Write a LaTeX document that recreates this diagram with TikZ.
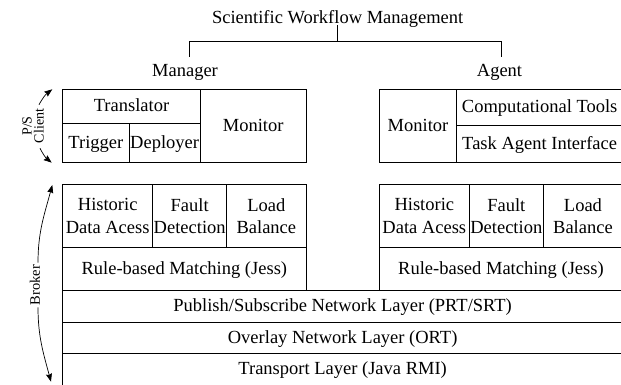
\documentclass[tikz,border=0pt]{standalone}
\usepackage{fontspec}
\setmainfont{Liberation Serif}
\usetikzlibrary{arrows.meta,calc}
\begin{document}
\begin{tikzpicture}[x=1pt,y=1pt,
  lbl/.style={font=\fontsize{18.5}{22.5}\selectfont, inner sep=0pt},
  cell/.style={draw, line width=0.8pt, inner sep=0pt, align=center, font=\fontsize{18.5}{22.5}\selectfont},
  one/.style={text height=13.5pt, text depth=3pt},
  side/.style={font=\fontsize{14}{12}\selectfont, inner sep=0pt, align=center, rotate=90},
  conn/.style={line width=0.8pt},
  arr/.style={line width=0.7pt, -{Stealth[length=8pt,width=6pt,inset=1pt]}}]
\useasboundingbox (0,0) rectangle (621,385);

% title tree
\node[lbl,anchor=base] (title) at (337.7,361.5) {Scientific Workflow Management};
\node[lbl,anchor=base] (mgr) at (185,308) {Manager};
\node[lbl,anchor=base] (agt) at (499.5,308) {Agent};
\coordinate (tj) at (337.7,343.3);
\draw[conn] ([yshift=2.5pt]title.south) -- (tj);
\draw[conn] ([shift={(4.3pt,8pt)}]mgr.north) |- (tj) -| ([shift={(1.5pt,8pt)}]agt.north);

% manager client part
\node[cell,one,minimum width=137.6pt,minimum height=34pt] (transl) at (131.5,278.7) {Translator};
\node[cell,one,minimum width=66.3pt,minimum height=39.4pt] (trig) at (95.85,242) {Trigger};
\node[cell,one,minimum width=71.3pt,minimum height=39.4pt] (depl) at (164.65,242) {Deployer};
\node[cell,one,minimum width=105.7pt,minimum height=73.4pt] (monL) at (253.15,259) {Monitor};

% agent client part
\node[cell,one,minimum width=77.4pt,minimum height=73.4pt] (monR) at (418,259) {Monitor};
\node[cell,one,minimum width=165.9pt,minimum height=36.4pt] (comp) at (539.65,277.5) {Computational Tools};
\node[cell,one,minimum width=165.9pt,minimum height=37pt] (task) at (539.65,240.8) {Task Agent Interface};

% broker parts
\node[cell,minimum width=90pt,minimum height=63.4pt] (histL) at (107.7,169) {Historic\\Data Acess};
\node[cell,minimum width=74pt,minimum height=63.4pt] (faultL) at (189.7,169) {Fault\\Detection};
\node[cell,minimum width=79.3pt,minimum height=63.4pt] (loadL) at (266.35,169) {Load\\Balance};
\node[cell,one,minimum width=243.3pt,minimum height=43pt] (ruleL) at (184.35,115.8) {Rule-based Matching (Jess)};

\node[cell,minimum width=90pt,minimum height=63.4pt] (histR) at (424.3,169) {Historic\\Data Acess};
\node[cell,minimum width=74pt,minimum height=63.4pt] (faultR) at (506.3,169) {Fault\\Detection};
\node[cell,minimum width=79.3pt,minimum height=63.4pt] (loadR) at (582.95,169) {Load\\Balance};
\node[cell,one,minimum width=243.3pt,minimum height=43pt] (ruleR) at (500.95,115.8) {Rule-based Matching (Jess)};

% layers
\node[cell,one,minimum width=559.9pt,minimum height=31.6pt] (pub) at (342.65,78.5) {Publish/Subscribe Network Layer (PRT/SRT)};
\node[cell,one,minimum width=559.9pt,minimum height=31.4pt] (ovl) at (342.65,47) {Overlay Network Layer (ORT)};
\node[cell,one,minimum width=559.9pt,minimum height=31.6pt] (trans) at (342.65,15.5) {Transport Layer (Java RMI)};

% side labels
\node[side] (psc) at (33,259) {P/S\\Client};
\coordinate (pstop) at (52.3,295.7);
\coordinate (psbot) at (51.7,222.3);
\draw[arr] ($(psc.east)+(6,4)$) to[bend left=12] (pstop);
\draw[arr] ($(psc.west)+(7,-5)$) to[bend right=12] (psbot);

\node[side,font=\fontsize{14.5}{14}\selectfont] (brk) at (35,100) {Broker};
\coordinate (bktop) at (52.3,200);
\coordinate (bkbot) at (51,3.3);
\draw[arr] ($(brk.east)+(3,2)$) to[out=90,in=-105] (bktop);
\draw[arr] ($(brk.west)+(3,-2)$) to[out=-90,in=105] (bkbot);
\end{tikzpicture}
\end{document}
